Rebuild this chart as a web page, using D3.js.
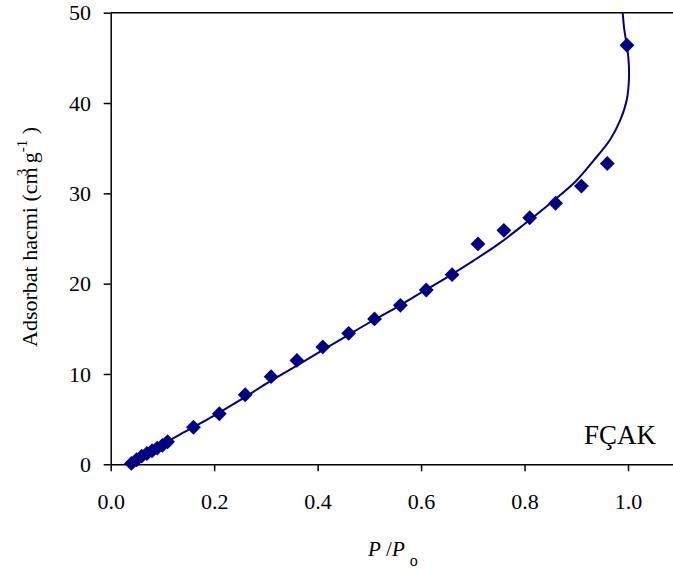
<!DOCTYPE html>
<html>
<head>
<meta charset="utf-8">
<script src="https://cdn.jsdelivr.net/npm/d3@7"></script>
<style>
  html, body { margin: 0; padding: 0; background: #fff; }
  svg { display: block; }
  text { font-family: "Liberation Serif", "Times New Roman", serif; fill: #000; }
</style>
</head>
<body>
<div id="chart"></div>
<script>
// ---- data ----
const pointX = [0.04, 0.05, 0.06, 0.07, 0.08, 0.09, 0.10, 0.11, 0.16, 0.21, 0.26, 0.31, 0.36, 0.41, 0.46, 0.51, 0.56, 0.61, 0.66, 0.71, 0.76, 0.81, 0.86, 0.91, 0.96, 0.998];
const pointY = [0.1, 0.5, 0.9, 1.2, 1.5, 1.8, 2.1, 2.5, 4.1, 5.6, 7.7, 9.7, 11.5, 13.0, 14.5, 16.1, 17.6, 19.3, 21.0, 24.4, 25.9, 27.3, 28.9, 30.8, 33.3, 46.4];
const curveX = [0.040, 0.07, 0.10, 0.15, 0.20, 0.25, 0.30, 0.35, 0.40, 0.45, 0.50, 0.55, 0.60, 0.65, 0.70, 0.75, 0.80, 0.85, 0.90, 0.933, 0.965, 0.985, 0.9975, 1.002, 1.0006, 0.997, 0.9925, 0.9897];
const curveY = [0.0, 1.1, 2.2, 3.8, 5.4, 7.1, 8.9, 10.6, 12.3, 14.0, 15.7, 17.3, 19.0, 20.7, 22.5, 24.4, 26.6, 28.9, 31.4, 33.6, 35.9, 38.1, 40.3, 42.9, 45.1, 46.6, 48.3, 50.0];
const xTicks = [0.0, 0.2, 0.4, 0.6, 0.8, 1.0];
const yTicks = [0, 10, 20, 30, 40, 50];
const sampleLabel = "FÇAK";
const yLabel = "Adsorbat hacmi (cm";

// ---- layout ----
const W = 673, H = 570;
const mLeft = 110.7, mRight = 673, mTop = 12.7, mBottom = 464.3;
const pxPerUnit = 517.3;

const x = d3.scaleLinear().domain([0, (mRight - mLeft) / pxPerUnit]).range([mLeft, mRight]);
const y = d3.scaleLinear().domain([0, 50]).range([mBottom, mTop]);

const svg = d3.select("#chart").append("svg").attr("width", W).attr("height", H);

const navy = "#000080";

svg.append("defs").append("clipPath").attr("id", "clip")
  .append("rect").attr("x", mLeft).attr("y", mTop).attr("width", mRight - mLeft).attr("height", mBottom - mTop);

// top frame line
svg.append("line").attr("x1", mLeft).attr("x2", mRight).attr("y1", y(50)).attr("y2", y(50))
  .attr("stroke", "#000").attr("stroke-width", 1.5);

// axes
const xAxis = d3.axisBottom(x).tickValues(xTicks).tickFormat(d3.format(".1f")).tickSize(7).tickPadding(22).tickSizeOuter(0);
const gx = svg.append("g").attr("transform", `translate(0,${mBottom})`).call(xAxis);
gx.select(".domain").attr("stroke", "#000").attr("stroke-width", 1.5);
gx.selectAll(".tick line").attr("stroke", "#000").attr("stroke-width", 1.5);
gx.selectAll(".tick text").style("font-family", '"Liberation Serif", serif').style("font-size", "22px").attr("fill", "#000");

const yAxis = d3.axisLeft(y).tickValues(yTicks).tickFormat(d3.format("d")).tickSize(7).tickPadding(12.7).tickSizeOuter(0);
const gy = svg.append("g").attr("transform", `translate(${mLeft},0)`).call(yAxis);
gy.select(".domain").attr("stroke", "#000").attr("stroke-width", 1.5);
gy.selectAll(".tick line").attr("stroke", "#000").attr("stroke-width", 1.5);
gy.selectAll(".tick text").style("font-family", '"Liberation Serif", serif').style("font-size", "22px").attr("fill", "#000");

// fitted curve
const curveData = curveX.map((d, i) => [d, curveY[i]]);
const line = d3.line().x(d => x(d[0])).y(d => y(d[1])).curve(d3.curveCatmullRom.alpha(0.5));
svg.append("path").datum(curveData).attr("d", line)
  .attr("fill", "none").attr("stroke", navy).attr("stroke-width", 2).attr("clip-path", "url(#clip)");

// points (diamonds)
const pts = pointX.map((d, i) => [d, pointY[i]]);
const sym = d3.symbol().type(d3.symbolSquare).size(110);
svg.append("g").selectAll("path").data(pts).join("path")
  .attr("d", sym)
  .attr("transform", d => `translate(${x(d[0])},${y(d[1])}) rotate(45)`)
  .attr("fill", navy);

// sample label
svg.append("text").attr("x", 656).attr("y", 444).attr("text-anchor", "end")
  .style("font-size", "27px").text(sampleLabel);

// x label
const xl = svg.append("text").attr("x", 368).attr("y", 556).style("font-size", "21px");
xl.append("tspan").style("font-style", "italic").text("P");
xl.append("tspan").text(" /");
xl.append("tspan").style("font-style", "italic").text("P");
xl.append("tspan").attr("dx", 5).attr("dy", 10).style("font-size", "16px").text("o");

// y label
const yl = svg.append("text").attr("transform", "translate(37,237) rotate(-90)")
  .attr("text-anchor", "middle").style("font-size", "22px");
yl.append("tspan").text(yLabel);
yl.append("tspan").attr("dx", -9).attr("dy", -10).style("font-size", "15px").text("3");
yl.append("tspan").attr("dy", 10).text(" g");
yl.append("tspan").attr("dy", -10).style("font-size", "15px").text("-1");
yl.append("tspan").attr("dy", 10).text(" )");
</script>
</body>
</html>
